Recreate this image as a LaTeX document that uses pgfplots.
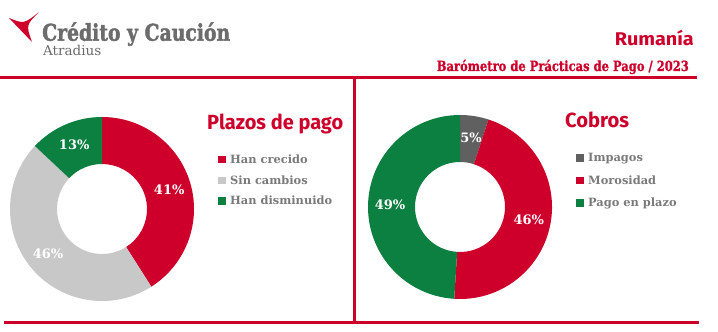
\documentclass[border=0pt]{standalone}
\usepackage{fontspec}
\setmainfont{DejaVu Serif}[BoldFont={DejaVu Serif Bold}]
\newfontfamily\logofont{DejaVu Serif Bold}[FakeBold=2]
\newfontfamily\headfont{DejaVu Serif Bold}[FakeBold=1]
\newfontfamily\titlefont{Fira Sans}[BoldFont={Fira Sans Bold}]
\usepackage{pgfplots}
\usepackage{pgfplotstable}
\pgfplotsset{compat=1.18}

\definecolor{cyred}{RGB}{206,0,43}
\definecolor{cygreen}{RGB}{12,128,64}
\definecolor{cylgrey}{RGB}{200,200,200}
\definecolor{cydgrey}{RGB}{96,96,96}
\definecolor{cytext}{RGB}{122,122,122}
\definecolor{cylogo}{RGB}{108,108,108}

% Plazos de pago
\pgfplotstableread[col sep=comma]{
label,value,color
Han crecido,41,cyred
Sin cambios,46,cylgrey
Han disminuido,13,cygreen
}\plazos

% Cobros
\pgfplotstableread[col sep=comma]{
label,value,color
Impagos,5,cydgrey
Morosidad,46,cyred
Pago en plazo,49,cygreen
}\cobros

\tikzset{
  pct/.style={text=white, inner sep=0pt, font=\bfseries\fontsize{13}{15}\selectfont},
  leg/.style={anchor=base west, inner sep=0pt, text=cytext, font=\bfseries\fontsize{11.4}{13}\selectfont},
}

\def\Ro{92}\def\Ri{45}\def\Rl{70}

% #1 table, #2 first legend baseline (rel. to centre), #3 legend row step
\newcommand\donut[3]{%
  \pgfplotstablegetrowsof{#1}%
  \pgfmathtruncatemacro\nlast{\pgfplotsretval-1}%
  \def\cum{0}%
  \pgfplotsforeachungrouped \row in {0,...,\nlast}{%
    \pgfplotstablegetelem{\row}{value}\of{#1}\let\val\pgfplotsretval
    \pgfplotstablegetelem{\row}{color}\of{#1}\let\col\pgfplotsretval
    \pgfplotstablegetelem{\row}{label}\of{#1}\let\lab\pgfplotsretval
    \pgfmathsetmacro\sa{90-3.6*\cum}%
    \pgfmathsetmacro\ea{90-3.6*(\cum+\val)}%
    \pgfmathsetmacro\ma{(\sa+\ea)/2}%
    \pgfmathsetmacro\xo{\Ro*cos(\sa)}\pgfmathsetmacro\yo{\Ro*sin(\sa)}%
    \pgfmathsetmacro\xin{\Ri*cos(\ea)}\pgfmathsetmacro\yin{\Ri*sin(\ea)}%
    \pgfmathsetmacro\xl{\Rl*cos(\ma)}\pgfmathsetmacro\yl{\Rl*sin(\ma)}%
    \pgfmathsetmacro\yb{#2-#3*\row}%
    \pgfmathsetmacro\ybt{\yb+7.5}%
    \edef\temp{%
      \noexpand\fill[\col] (axis cs:\xo,\yo) arc[start angle=\sa,end angle=\ea,radius=\Ro pt]
        -- (axis cs:\xin,\yin) arc[start angle=\ea,end angle=\sa,radius=\Ri pt] -- cycle;
      \noexpand\node[pct] at (axis cs:\xl,\yl) {\val\noexpand\%};
      \noexpand\fill[\col] (axis cs:116,\yb) rectangle (axis cs:123.5,\ybt);
      \noexpand\node[leg] at (axis cs:128,\yb) {\lab};
    }%
    \temp
    \pgfmathsetmacro\cum{\cum+\val}%
  }%
}

\pgfplotsset{donut/.style={hide axis, x=1pt, y=1pt, xmin=-100, xmax=100,
  ymin=-100, ymax=100, anchor=origin, clip=false}}

\begin{document}
\begin{tikzpicture}[x=1pt, y=1pt]
\useasboundingbox (0,0) rectangle (718,332);
\fill[white] (0,0) rectangle (718,332);

% logo
\fill[cyred] (9,314) .. controls (24,308) .. (39,320)
  .. controls (26,307) .. (32,290) .. controls (21,302) .. (9,314) -- cycle;
\node[anchor=base west, inner sep=0pt, text=cylogo,
  font=\logofont\fontsize{23}{26}\selectfont] at (42,291.3)
  {\resizebox{188pt}{\height}{Crédito y Caución}};
\node[anchor=base west, inner sep=0pt, text=cylogo,
  font=\fontsize{13.5}{15}\selectfont] at (43,276)
  {\resizebox{58pt}{\height}{Atradius}};

% header
\node[anchor=base east, inner sep=0pt, text=cyred,
  font=\titlefont\bfseries\fontsize{18.4}{20}\selectfont] at (694,286)
  {\resizebox{79pt}{\height}{Rumanía}};
\node[anchor=base east, inner sep=0pt, text=cyred,
  font=\headfont\fontsize{14}{16}\selectfont] at (689,261)
  {\resizebox{252pt}{\height}{Barómetro de Prácticas de Pago / 2023}};

% frame lines
\draw[cyred, line width=2.6pt] (0,254.5) -- (697,254.5);
\draw[cyred, line width=2.6pt] (354.5,254.5) -- (354.5,9);
\draw[cyred, line width=3pt] (4,9) -- (699,9);

% titles
\node[anchor=base west, inner sep=0pt, text=cyred,
  font=\titlefont\bfseries\fontsize{20.5}{22}\selectfont] at (207,202)
  {\resizebox{136pt}{\height}{Plazos de pago}};
\node[anchor=base west, inner sep=0pt, text=cyred,
  font=\titlefont\bfseries\fontsize{20.5}{22}\selectfont] at (565,204.5)
  {\resizebox{64pt}{\height}{Cobros}};

\begin{axis}[donut, at={(102pt,123pt)}]
  \donut{\plazos}{45.7}{20.8}
\end{axis}

\begin{axis}[donut, at={(460pt,125pt)}]
  \donut{\cobros}{45}{22.3}
\end{axis}
\end{tikzpicture}
\end{document}
